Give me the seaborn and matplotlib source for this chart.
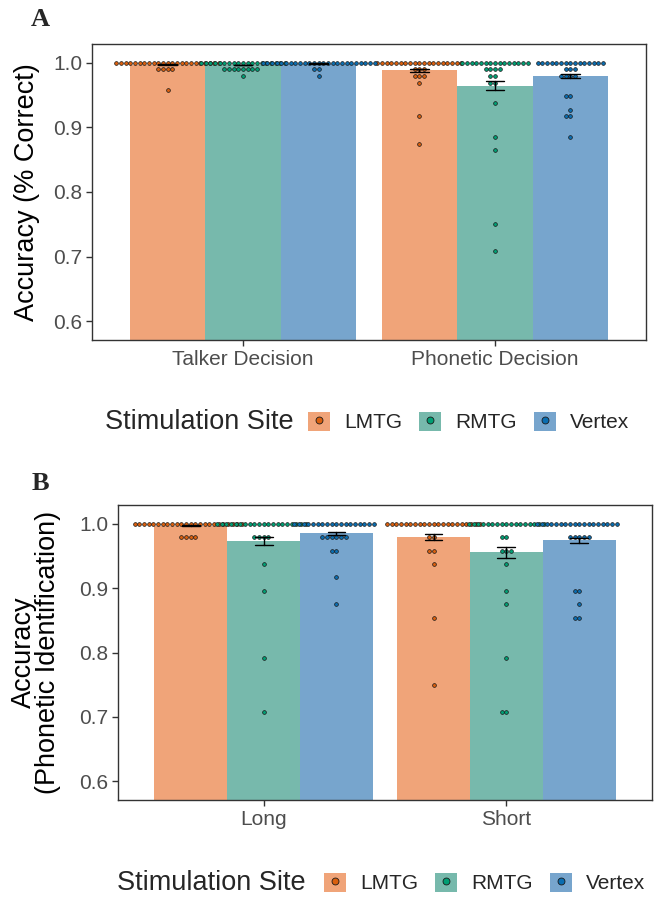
import numpy as np
import pandas as pd
import matplotlib
matplotlib.use("Agg")
import matplotlib.pyplot as plt
import seaborn as sns
from matplotlib.patches import Patch
from matplotlib.lines import Line2D

# ---------------- data ----------------
sites = ["LMTG", "RMTG", "Vertex"]
conds_a = ["Talker Decision", "Phonetic Decision"]
conds_b = ["Long", "Short"]
ytick_vals = [0.6, 0.7, 0.8, 0.9, 1.0]
ytick_labels = ["0.6", "0.7", "0.8", "0.9", "1.0"]

# Panel A: per-participant accuracy (% correct)
a_talker_lmtg = [1.0] * 23 + [0.990] * 4 + [0.958]
a_talker_rmtg = [1.0] * 19 + [0.990] * 8 + [0.979]
a_talker_vertex = [1.0] * 25 + [0.990] * 2 + [0.979]
a_phon_lmtg = [1.0] * 19 + [0.990] * 3 + [0.979] * 3 + [0.969, 0.917, 0.875]
a_phon_rmtg = [1.0] * 15 + [0.990] * 4 + [0.979] * 2 + [0.969] * 2 + [0.938, 0.885, 0.865, 0.750, 0.708]
a_phon_vertex = [1.0] * 15 + [0.990] * 3 + [0.979] * 4 + [0.948] * 2 + [0.927, 0.917, 0.917, 0.885]

# Panel B: per-participant accuracy (phonetic identification)
b_long_lmtg = [1.0] * 24 + [0.979] * 4
b_long_rmtg = [1.0] * 20 + [0.979] * 4 + [0.938, 0.896, 0.792, 0.708]
b_long_vertex = [1.0] * 18 + [0.979] * 6 + [0.958] * 2 + [0.917, 0.875]
b_short_lmtg = [1.0] * 21 + [0.979] * 2 + [0.958] * 2 + [0.938, 0.854, 0.750]
b_short_rmtg = [1.0] * 17 + [0.979] * 2 + [0.958] * 3 + [0.938, 0.896, 0.875, 0.792, 0.708, 0.708]
b_short_vertex = [1.0] * 18 + [0.979] * 5 + [0.896] * 2 + [0.875] + [0.854] * 2

bar_colors = ["#F0A479", "#77B9AC", "#77A5CD"]
dot_colors = ["#D95F0E", "#009E73", "#0A6DB0"]


def build(conds, table):
    rows = []
    for c in conds:
        for s in sites:
            for v in table[(c, s)]:
                rows.append((c, s, v))
    return pd.DataFrame(rows, columns=["cond", "site", "acc"])


df_a = build(conds_a, {
    ("Talker Decision", "LMTG"): a_talker_lmtg,
    ("Talker Decision", "RMTG"): a_talker_rmtg,
    ("Talker Decision", "Vertex"): a_talker_vertex,
    ("Phonetic Decision", "LMTG"): a_phon_lmtg,
    ("Phonetic Decision", "RMTG"): a_phon_rmtg,
    ("Phonetic Decision", "Vertex"): a_phon_vertex,
})
df_b = build(conds_b, {
    ("Long", "LMTG"): b_long_lmtg,
    ("Long", "RMTG"): b_long_rmtg,
    ("Long", "Vertex"): b_long_vertex,
    ("Short", "LMTG"): b_short_lmtg,
    ("Short", "RMTG"): b_short_rmtg,
    ("Short", "Vertex"): b_short_vertex,
})

# ---------------- style ----------------
sns.set_theme(style="ticks")
plt.rcParams['font.family'] = ['Liberation Sans', 'DejaVu Sans']

W, H = 666, 898
fig = plt.figure(figsize=(W / 100, H / 100), dpi=100)
axA = fig.add_axes([92 / W, 1 - 340 / H, 554 / W, 296 / H])
axB = fig.add_axes([118 / W, 1 - 800 / H, 534 / W, 295 / H])

BAR_W = 0.9


def draw(ax, df, conds):
    sns.barplot(data=df, x="cond", y="acc", hue="site", order=conds, hue_order=sites,
                palette=bar_colors, width=BAR_W, saturation=1, errorbar=("se", 0.5),
                capsize=0.22, err_kws=dict(color="black", linewidth=1.0, zorder=6),
                legend=False, ax=ax)
    for p in ax.patches:
        p.set_edgecolor("none")
    step = BAR_W / len(sites)
    cidx = {c: j for j, c in enumerate(conds)}
    for i, s in enumerate(sites):
        sub = df[df.site == s].copy()
        sub["xpos"] = sub["cond"].map(cidx) + (i - 1) * step
        sns.swarmplot(data=sub, x="xpos", y="acc", native_scale=True, orient="x",
                      color=dot_colors[i], size=2.7, edgecolor="#1a1a1a", linewidth=0.5,
                      warn_thresh=1, legend=False, ax=ax, zorder=4)
    ax.set_xlim(-0.6, 1.6)
    ax.set_ylim(0.571, 1.029)
    ax.set_yticks(ytick_vals)
    ax.set_yticklabels(ytick_labels)
    ax.set_xticks([0, 1])
    ax.set_xticklabels(conds)
    ax.set_xlabel("")
    ax.set_ylabel("")
    ax.tick_params(axis="both", length=4, width=1, color="#333333", labelsize=15,
                   labelcolor="#4d4d4d", direction="out", pad=3)
    for sp in ax.spines.values():
        sp.set_visible(True)
        sp.set_color("#333333")
        sp.set_linewidth(1.0)
    ax.grid(False)


draw(axA, df_a, conds_a)
draw(axB, df_b, conds_b)

# axis titles
fig.text(27 / W, 1 - 192 / H, "Accuracy (% Correct)", rotation=90, ha="center", va="center",
         fontsize=19.5, color="black")
fig.text(36 / W, 1 - 652 / H, "Accuracy\n(Phonetic Identification)", rotation=90, ha="center",
         va="center", fontsize=19.5, color="black", linespacing=0.95, multialignment="center")

# panel letters
fig.text(40 / W, 1 - 19 / H, "A", fontfamily="Liberation Serif", fontweight="bold", fontsize=19,
         ha="center", va="center")
fig.text(40 / W, 1 - 483 / H, "B", fontfamily="Liberation Serif", fontweight="bold", fontsize=19,
         ha="center", va="center")

# legends
handles = [(Patch(facecolor=bar_colors[i], edgecolor="none"),
            Line2D([], [], marker="o", linestyle="", markerfacecolor=dot_colors[i],
                   markeredgecolor="#1a1a1a", markersize=5, markeredgewidth=0.6))
           for i in range(len(sites))]


def add_legend(title_x, key_x, y):
    fig.text(title_x / W, 1 - y / H, "Stimulation Site", ha="left", va="center", fontsize=19.5)
    fig.legend(handles, sites, loc="center left", bbox_to_anchor=(key_x / W, 1 - y / H),
               ncol=3, frameon=False, fontsize=15, handlelength=1.05, handleheight=1.05,
               handletextpad=0.7, columnspacing=0.8, borderpad=0, borderaxespad=0)


add_legend(105, 308, 422)
add_legend(117, 324, 883)

fig.savefig("out.png", dpi=100)
